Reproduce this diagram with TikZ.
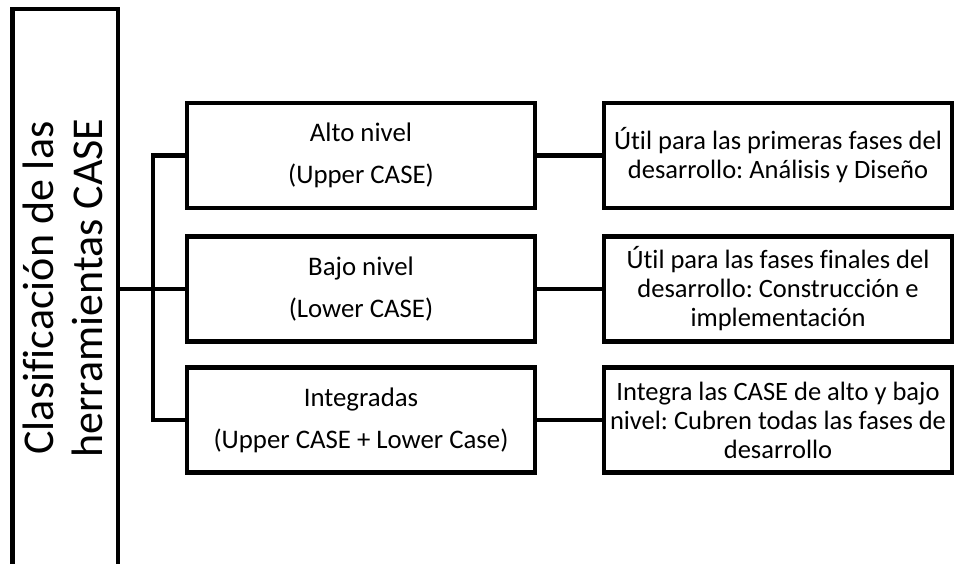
\documentclass[tikz,border=0pt]{standalone}
\usepackage{fontspec}
\setmainfont{Carlito}[Ligatures=NoCommon]
\frenchspacing
\begin{document}
\begin{tikzpicture}[x=1pt,y=-1pt,
  box/.style={draw=black, line width=4.5pt, minimum width=348pt, minimum height=105pt, inner sep=0pt, align=center},
  midtext/.style={font=\fontsize{26.8}{42}\selectfont},
  righttext/.style={font=\fontsize{26.5}{29}\selectfont},
  conn/.style={draw=black, line width=4.5pt}]
\useasboundingbox (0,0) rectangle (956,564);
\clip (0,0) rectangle (956,564);
% left box
\node[draw=black, line width=4.5pt, minimum width=105.5pt, minimum height=600pt, inner sep=0pt] (L) at (65.25,309) {};
\node[rotate=90, align=center, font=\fontsize{44}{49}\selectfont] (LT) at (63,288) {Clasificación de las\\herramientas CASE};
% middle boxes
\node[box, midtext] (M1) at (361,155.5) {Alto nivel\\(Upper CASE)};
\node[box, midtext] (M2) at (361,289) {Bajo nivel\\(Lower CASE)};
\node[box, midtext] (M3) at (361,420) {Integradas\\(Upper CASE + Lower Case)};
% right boxes
\node[box, righttext] (R1) at (778,155.5) {Útil para las primeras fases del\\desarrollo: Análisis y Diseño};
\node[box, righttext] (R2) at (778,289) {Útil para las fases finales del\\desarrollo: Construcción e\\implementación};
\node[box, righttext] (R3) at (778,420) {Integra las CASE de alto y bajo\\nivel: Cubren todas las fases de\\desarrollo};
% connectors
\coordinate (bx) at (153,289);
\draw[conn] (M2.west -| L.east) -- (M2.west);
\draw[conn] (M1.west) -- (M1.west -| bx) -- (M3.west -| bx) -- (M3.west);
\draw[conn] (M1.east) -- (R1.west);
\draw[conn] (M2.east) -- (R2.west);
\draw[conn] (M3.east) -- (R3.west);
\end{tikzpicture}
\end{document}
